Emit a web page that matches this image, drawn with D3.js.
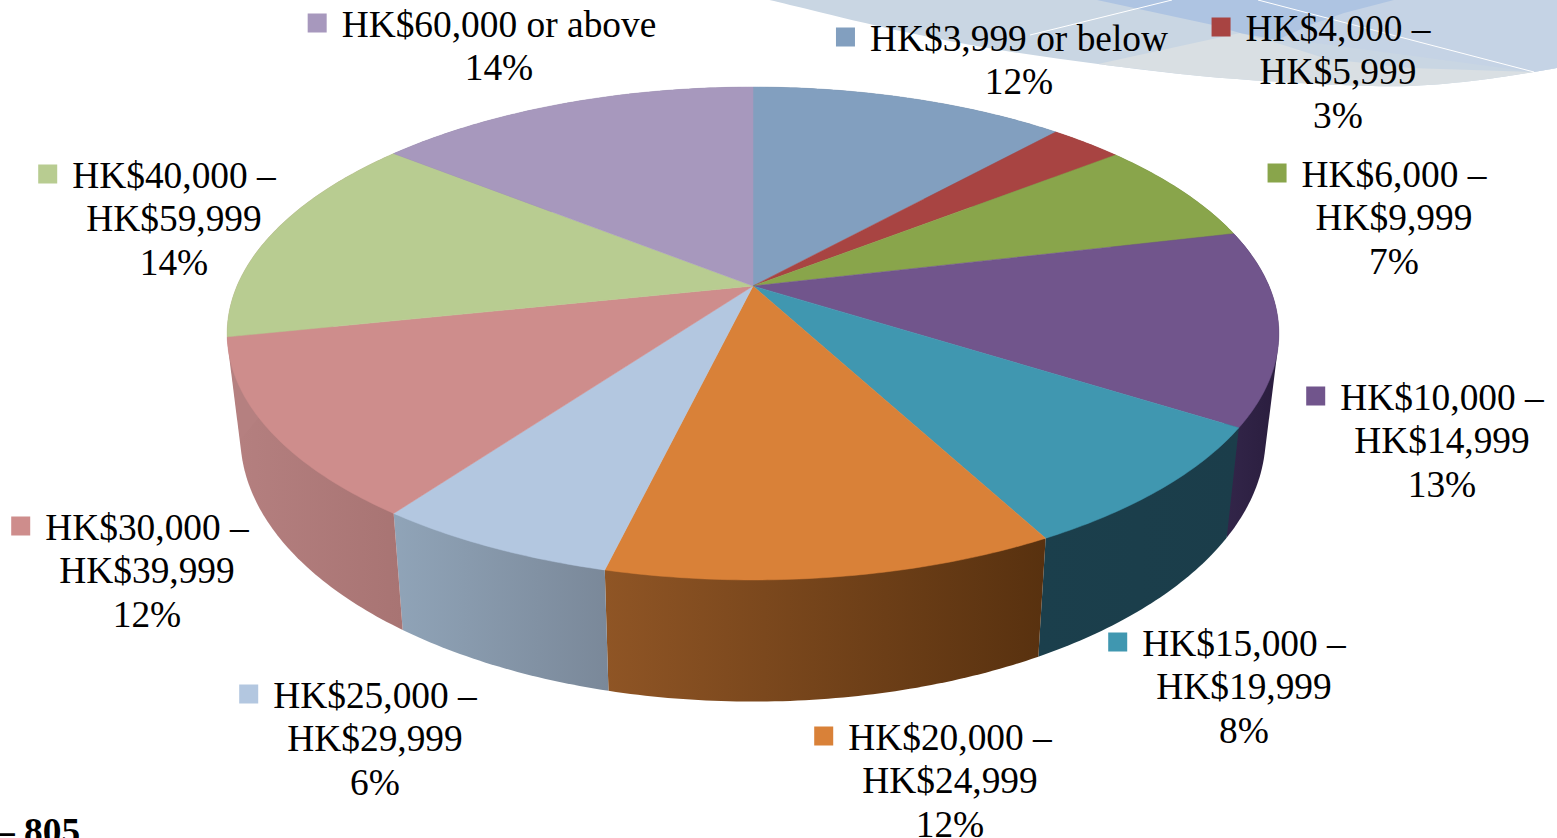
<!DOCTYPE html>
<html><head><meta charset="utf-8">
<style>html,body{margin:0;padding:0;background:#fff;overflow:hidden}svg{display:block}text{font-family:"Liberation Serif","Times New Roman",serif;fill:#000}</style>
<script src="https://cdn.jsdelivr.net/npm/d3@7"></script></head><body>
<svg id="c" width="1557" height="838"></svg>
<script>
const categories=["HK$3,999 or below","HK$4,000 – HK$5,999","HK$6,000 – HK$9,999","HK$10,000 – HK$14,999","HK$15,000 – HK$19,999","HK$20,000 – HK$24,999","HK$25,000 – HK$29,999","HK$30,000 – HK$39,999","HK$40,000 – HK$59,999","HK$60,000 or above"];
const shares=[11.7,2.7,6.9,12.7,8.2,11.55,6.25,11.7,14.05,14.25];
const percentLabels=["12%","3%","7%","13%","8%","12%","6%","12%","14%","14%"];
const topColors=["#829fbf","#a84442","#89a54b","#71558c","#4097b0","#d98138","#b3c7e0","#ce8d8c","#b8cc91","#a798bd"];
const wallStart=["#5c7186","#76302f","#606f35","#33264a","#1b3f4c","#8f5525","#90a4b8","#b58080","#b58080","#7f7290"];
const wallEnd=["#5c7186","#76302f","#606f35","#2a1d3e","#1b3d4a","#58310f","#7a8899","#a87473","#b58080","#7f7290"];
const labelAnchors=[[1019,51],[1338,41],[1394,187],[1442,410],[1244,656],[950,750],[375,708],[147,540],[174,188],[499,37]];
const footnote="– 805";

const svg=d3.select("#c"), defs=svg.append("defs");

// Background swoosh
const smooth=d3.line().curve(d3.curveCatmullRom.alpha(.5));
const swooshEdge=[[757,-3],[811,10],[900,31],[1000,50],[1098,64],[1200,76],[1280,82],[1340,85],[1410,86],[1480,80],[1534,72],[1557,68]];
svg.append("path").attr("fill","#c9d6e3").attr("d",smooth(swooshEdge)+"L1557,-3Z");
svg.append("path").attr("fill","#c5d3e5").attr("d","M1240,33L1394,0L1557,0L1557,68L1534,72Z");
const greyEdge=[[1534,72],[1410,68],[1327,59],[1277,43],[1240,33],[1098,64]];
svg.append("path").attr("fill","#d9dfe3").attr("d",smooth(swooshEdge.slice(4,11))+"L"+greyEdge.map(p=>p.join(",")).join("L")+"Z");
const blueEdge=[[1097,0],[1213,25],[1240,33],[1277,40],[1310,25],[1344,13],[1394,0]];
svg.append("path").attr("fill","#aec4e2").attr("d",d3.line()(blueEdge)+"Z");
const whiteLines=[[[1030,35],[1172,0]],[[1258,0],[1534,72]]];
svg.selectAll(".wl").data(whiteLines).join("path").attr("class","wl").attr("fill","none").attr("stroke","#fff").attr("stroke-width",1).attr("d",d3.line());

// Perspective projection of the pie disc
const sx=d3.scaleLinear().domain([-1,1]).range([753-516,753+516]);
const sy=d3.scaleLinear().domain([-1,1]).range([286-237.3,286+237.3]);
const k=.1927;
const bottomX=.975, bottomY=1.077, bottomOffset=385;
function project(a){const X=Math.sin(a),Y=-Math.cos(a),w=1-k*Y;return [sx(X/w),sy(Y/w)];}
function lower(p){return [753+(p[0]-753)*bottomX,bottomOffset+(p[1]-286)*bottomY];}
const apex=[sx(0),sy(0)];
const arcs=d3.pie().sort(null).value(d=>d)(shares);
function arcPts(d){const n=Math.max(6,Math.ceil((d.endAngle-d.startAngle)*80));
  return d3.range(n+1).map(i=>project(d.startAngle+(d.endAngle-d.startAngle)*i/n));}
const line=d3.line();

// Side walls
const walls=svg.append("g");
arcs.forEach((d,i)=>{
  const pts=arcPts(d), low=pts.map(lower);
  const all=pts.concat(low), x0=d3.min(all,p=>p[0]), x1=d3.max(all,p=>p[0]);
  const id="w"+i, g=defs.append("linearGradient").attr("id",id).attr("gradientUnits","userSpaceOnUse")
    .attr("x1",x0).attr("x2",x1).attr("y1",0).attr("y2",0);
  g.append("stop").attr("offset",0).attr("stop-color",wallStart[i]);
  g.append("stop").attr("offset",1).attr("stop-color",wallEnd[i]);
  walls.append("path").attr("d",line(d3.polygonHull(all))+"Z").attr("fill",`url(#${id})`);
});

// Top surface
svg.append("g").selectAll("path").data(arcs).join("path")
  .attr("d",d=>line([apex,...arcPts(d)])+"Z")
  .attr("fill",(d,i)=>topColors[i]).attr("stroke",(d,i)=>topColors[i]).attr("stroke-width",.5);

// Labels
const fs=37.4, lh=43.3;
const labels=svg.append("g");
categories.forEach((c,i)=>{
  const [cx,by]=labelAnchors[i];
  const parts=c.includes(" – ")?[c.split(" – ")[0]+" –",c.split(" – ")[1]]:[c];
  const lines=parts.concat(percentLabels[i]);
  const g=labels.append("g");
  const ts=lines.map((t,j)=>g.append("text").attr("x",cx).attr("y",by+j*lh).attr("text-anchor","middle").attr("font-size",fs).text(t));
  const w=ts[0].node().getComputedTextLength();
  g.append("rect").attr("x",cx-w/2-34).attr("y",by-23.5).attr("width",19).attr("height",19).attr("fill",topColors[i]);
});
svg.append("text").attr("x",-4).attr("y",844).attr("font-size",fs).attr("font-weight","bold").text(footnote);
</script></body></html>
